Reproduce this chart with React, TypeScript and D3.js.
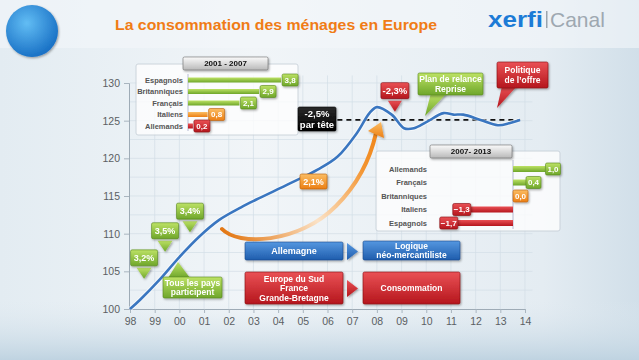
import React, { useEffect, useRef } from 'react'
import * as d3 from 'd3'

// consumption index, 1998 = 100
const years = [1998.0, 1998.4, 1999.2, 2000.0, 2000.8, 2001.6, 2002.5, 2003.1, 2004.5, 2005.6, 2006.4, 2007.2, 2007.7, 2008.0, 2008.6, 2009.1, 2009.5, 2010.0, 2010.7, 2011.1, 2011.5, 2012.2, 2012.9, 2013.4, 2013.8]
const consumption = [100.0, 101.2, 103.9, 106.9, 109.6, 111.8, 113.5, 114.5, 116.7, 118.5, 120.2, 123.4, 126.0, 126.8, 125.8, 124.0, 124.0, 124.8, 126.0, 125.8, 125.8, 125.1, 124.4, 124.7, 125.1]

const yTicks = [100, 105, 110, 115, 120, 125, 130]
const xTicks = [1998, 1999, 2000, 2001, 2002, 2003, 2004, 2005, 2006, 2007, 2008, 2009, 2010, 2011, 2012, 2013, 2014]
const xTickLabels = ['98', '99', '00', '01', '02', '03', '04', '05', '06', '07', '08', '09', '10', '11', '12', '13', '14']

// inset 2001 - 2007
const earlyLabels = ['Espagnols', 'Britanniques', 'Français', 'Italiens', 'Allemands']
const earlyValues = [3.8, 2.9, 2.1, 0.8, 0.2]
const earlyColors = ['green', 'green', 'green', 'orange', 'red']

// inset 2007 - 2013
const lateLabels = ['Allemands', 'Français', 'Britanniques', 'Italiens', 'Espagnols']
const lateValues = [1.0, 0.4, 0.0, -1.3, -1.7]
const lateColors = ['green', 'green', 'orange', 'red', 'red']

// growth callouts pinned on the curve
const growthLabels = ['3,2%', '3,5%', '3,4%']
const growthYears = [1998.57, 1999.42, 2000.43]
const growthValues = [104.0, 107.6, 110.2]

const W = 639
const H = 360
const FONT = '"Liberation Sans", Arial, sans-serif'

const palette = {
  green: ['#bde265', '#6ea62a', '#55871b'],
  orange: ['#fbbd63', '#ec7f14', '#b95f08'],
  red: ['#ea5155', '#b5161d', '#850c11'],
  blue: ['#5597e0', '#1f5dad', '#17488a'],
  grey: ['#fbfbfb', '#b9b9b9', '#6b6b6b'],
  black: ['#2a2a2a', '#000000', '#000000'],
}

const fmt = (v: number) => d3.format('.1f')(v).replace('.', ',')

export default function App() {
  const ref = useRef<SVGSVGElement>(null)

  useEffect(() => {
    const svg = d3.select(ref.current)
    svg.selectAll('*').remove()
    const defs = svg.append('defs')

    // vertical gradients for every colour
    Object.entries(palette).forEach(([k, c]) => {
      const g = defs.append('linearGradient').attr('id', 'g-' + k)
        .attr('x1', 0).attr('y1', 0).attr('x2', 0).attr('y2', 1)
      g.append('stop').attr('offset', '0%').attr('stop-color', c[0])
      g.append('stop').attr('offset', '100%').attr('stop-color', c[1])
    })
    const bg = defs.append('linearGradient').attr('id', 'bg')
    bg.append('stop').attr('offset', '0%').attr('stop-color', '#e3ecf2')
    bg.append('stop').attr('offset', '40%').attr('stop-color', '#f1f5f8')
    bg.append('stop').attr('offset', '85%').attr('stop-color', '#e4ecf2')
    bg.append('stop').attr('offset', '100%').attr('stop-color', '#d1dfe9')
    const bottom = defs.append('linearGradient').attr('id', 'bottom')
      .attr('x1', 0).attr('y1', 0).attr('x2', 0).attr('y2', 1)
    bottom.append('stop').attr('offset', '0%').attr('stop-color', '#dfe9f0').attr('stop-opacity', 0)
    bottom.append('stop').attr('offset', '100%').attr('stop-color', '#bfd3e1')
    const logo = defs.append('radialGradient').attr('id', 'logo')
      .attr('cx', '40%').attr('cy', '35%').attr('r', '65%')
    logo.append('stop').attr('offset', '0%').attr('stop-color', '#62bdf4')
    logo.append('stop').attr('offset', '100%').attr('stop-color', '#1a72c6')
    const arc = defs.append('linearGradient').attr('id', 'arc')
      .attr('gradientUnits', 'userSpaceOnUse').attr('x1', 222).attr('y1', 235).attr('x2', 380).attr('y2', 125)
    arc.append('stop').attr('offset', '0%').attr('stop-color', '#e2740e')
    arc.append('stop').attr('offset', '45%').attr('stop-color', '#fbe2c6')
    arc.append('stop').attr('offset', '80%').attr('stop-color', '#f39430')
    arc.append('stop').attr('offset', '100%').attr('stop-color', '#ef8215')
    const shadow = defs.append('filter').attr('id', 'shadow')
      .attr('x', '-20%').attr('y', '-20%').attr('width', '150%').attr('height', '160%')
    shadow.append('feDropShadow').attr('dx', 1).attr('dy', 1.2)
      .attr('stdDeviation', 0.9).attr('flood-color', '#000').attr('flood-opacity', 0.35)

    // background
    svg.append('rect').attr('width', W).attr('height', H).attr('fill', 'url(#bg)')
    svg.append('rect').attr('y', 300).attr('width', W).attr('height', 60).attr('fill', 'url(#bottom)')
    svg.append('rect').attr('width', W).attr('height', 48).attr('fill', '#f3f7fa').attr('opacity', 0.6)

    // logo + title
    svg.append('circle').attr('cx', 32).attr('cy', 31).attr('r', 26).attr('fill', 'url(#logo)')
      .attr('filter', 'url(#shadow)')
    svg.append('text').attr('x', 115).attr('y', 29.5).attr('fill', '#f07c16')
      .attr('font-size', 15.5).attr('font-weight', 'bold').attr('font-family', FONT)
      .attr('textLength', 322).attr('lengthAdjust', 'spacingAndGlyphs')
      .text('La consommation des ménages en Europe')
    svg.append('text').attr('x', 488).attr('y', 27).attr('fill', '#1c7bd6')
      .attr('font-size', 22).attr('font-weight', 'bold').attr('font-family', FONT)
      .attr('textLength', 55).attr('lengthAdjust', 'spacingAndGlyphs').text('xerfi')
    svg.append('rect').attr('x', 546).attr('y', 11).attr('width', 1.5).attr('height', 17).attr('fill', '#9aa4ad')
    svg.append('text').attr('x', 550).attr('y', 27).attr('fill', '#9ea8b1')
      .attr('font-size', 21).attr('font-family', FONT).text('Canal')

    // scales
    const x = d3.scaleLinear().domain([1998, 2014]).range([130, 525])
    const y = d3.scaleLinear().domain([100, 130]).range([309, 83])

    // grid
    const grid = svg.append('g').attr('stroke', '#d3dee7').attr('stroke-width', 0.7)
    grid.selectAll('line.v').data(xTicks.slice(1)).join('line')
      .attr('x1', d => x(d)).attr('x2', d => x(d)).attr('y1', y(131)).attr('y2', y(100))
    grid.selectAll('line.h').data(d3.range(102.5, 131, 2.5)).join('line')
      .attr('x1', x(1998)).attr('x2', x(2014.3)).attr('y1', d => y(d)).attr('y2', d => y(d))

    // axes
    const yAxis = svg.append('g').attr('transform', `translate(${x(1998) - 1},0)`)
      .call(d3.axisLeft(y).tickValues(yTicks).tickSize(5).tickPadding(4).tickFormat(d3.format('d')))
    const xAxis = svg.append('g').attr('transform', `translate(0,${y(100)})`)
      .call(d3.axisBottom(x).tickValues(xTicks).tickSize(4).tickPadding(5)
        .tickFormat((_d, i) => xTickLabels[i]))
    ;[yAxis, xAxis].forEach(a => {
      a.select('.domain').attr('stroke', '#9eabb6')
      a.selectAll('.tick line').attr('stroke', '#a9b5bf')
      a.selectAll('.tick text').attr('fill', '#5b5f63').attr('font-size', 10.5).attr('font-family', FONT)
    })

    // helper: box with centred lines of text
    const box = (bx: number, by: number, bw: number, bh: number, color: string, lines: string[], size: number, lineH: number) => {
      const g = svg.append('g').attr('filter', 'url(#shadow)')
      g.append('rect').attr('x', bx).attr('y', by).attr('width', bw).attr('height', bh)
        .attr('rx', 1.5).attr('fill', `url(#g-${color})`)
        .attr('stroke', palette[color][2]).attr('stroke-width', 0.6)
      const y0 = by + bh / 2 - (lines.length - 1) * lineH / 2 + size * 0.36
      lines.forEach((t, i) => {
        g.append('text').attr('x', bx + bw / 2).attr('y', y0 + i * lineH)
          .attr('text-anchor', 'middle').attr('fill', color === 'grey' ? '#111' : '#fff')
          .attr('font-size', size).attr('font-weight', 'bold').attr('font-family', FONT).text(t)
      })
      return g
    }
    const tri = (pts: [number, number][], color: string) =>
      svg.append('polygon').attr('points', pts.map(p => p.join(',')).join(' '))
        .attr('fill', `url(#g-${color})`).attr('filter', 'url(#shadow)')

    // inset 2001 - 2007
    svg.append('rect').attr('x', 136).attr('y', 64).attr('width', 162).attr('height', 71).attr('rx', 2)
      .attr('fill', '#fff').attr('opacity', 0.78).attr('stroke', '#c3ccd4')
    box(183, 57, 85, 13, 'grey', ['2001 - 2007'], 8, 9)
    const r1 = d3.scalePoint().domain(earlyLabels).range([80, 126])
    const b1 = d3.scaleLinear().domain([0, 4]).range([188, 286])
    svg.append('line').attr('x1', b1(0)).attr('x2', b1(0)).attr('y1', 74).attr('y2', 131)
      .attr('stroke', '#a6a9c8').attr('stroke-width', 0.8)
    earlyLabels.forEach((lab, i) => {
      const cy = r1(lab)!
      const v = earlyValues[i]
      const c = earlyColors[i]
      svg.append('text').attr('x', 183).attr('y', cy + 2.8).attr('text-anchor', 'end')
        .attr('font-size', 7.5).attr('font-weight', 'bold').attr('fill', '#555').attr('font-family', FONT).text(lab)
      svg.append('rect').attr('x', b1(0)).attr('y', cy - 2.5).attr('width', b1(v) - b1(0)).attr('height', 5)
        .attr('fill', `url(#g-${c})`)
      box(b1(v) + 1, cy - 6, 16, 12, c, [fmt(v)], 8, 9)
    })

    // inset 2007 - 2013
    svg.append('rect').attr('x', 376).attr('y', 151).attr('width', 184).attr('height', 80).attr('rx', 2)
      .attr('fill', '#fff').attr('opacity', 0.78).attr('stroke', '#c3ccd4')
    box(430, 145, 82, 13, 'grey', ['2007- 2013'], 8, 9)
    const r2 = d3.scalePoint().domain(lateLabels).range([169, 223])
    const b2 = d3.scaleLinear().domain([-2, 1.5]).range([448, 561.75])
    svg.append('line').attr('x1', b2(0)).attr('x2', b2(0)).attr('y1', 160).attr('y2', 229)
      .attr('stroke', '#a6a9c8').attr('stroke-width', 0.8)
    lateLabels.forEach((lab, i) => {
      const cy = r2(lab)!
      const v = lateValues[i]
      const c = lateColors[i]
      svg.append('text').attr('x', 427).attr('y', cy + 2.8).attr('text-anchor', 'end')
        .attr('font-size', 7.5).attr('font-weight', 'bold').attr('fill', '#555').attr('font-family', FONT).text(lab)
      svg.append('rect').attr('x', Math.min(b2(0), b2(v))).attr('y', cy - 3)
        .attr('width', Math.abs(b2(v) - b2(0))).attr('height', 6).attr('fill', `url(#g-${c})`)
      if (v < 0) box(b2(v) - 18, cy - 6, 18, 12, c, [fmt(v)], 8, 9)
      else box(b2(v), cy - 6, 15, 12, c, [fmt(v)], 8, 9)
    })

    // dashed reference level
    svg.append('line').attr('x1', x(2006.4)).attr('x2', x(2013.8)).attr('y1', y(125.1)).attr('y2', y(125.1))
      .attr('stroke', '#111').attr('stroke-width', 1.8).attr('stroke-dasharray', '5,4')

    // consumption line
    const line = d3.line<number>().x((_d, i) => x(years[i])).y(d => y(d)).curve(d3.curveCatmullRom)
    svg.append('path').datum(consumption).attr('d', line).attr('fill', 'none')
      .attr('stroke', '#ffffff').attr('stroke-opacity', 0.6).attr('stroke-width', 4.5)
    svg.append('path').datum(consumption).attr('d', line).attr('fill', 'none')
      .attr('stroke', '#3a76c0').attr('stroke-width', 2.6).attr('stroke-linejoin', 'round')

    // orange arrow
    svg.append('path').attr('d', 'M222,229 C238,246 298,244 336,206 C356,186 370,160 376,133')
      .attr('fill', 'none').attr('stroke', 'url(#arc)').attr('stroke-width', 4).attr('stroke-linecap', 'round')
    tri([[381, 122], [368, 131], [384, 138]], 'orange')
    box(300, 174, 27, 15, 'orange', ['2,1%'], 9, 10)

    // growth callouts
    growthLabels.forEach((lab, i) => {
      const tx = x(growthYears[i])
      const ty = y(growthValues[i])
      tri([[tx - 7.5, ty - 11], [tx + 7.5, ty - 11], [tx, ty]], 'green')
      box(tx - 13.5, ty - 29, 27, 16, 'green', [lab], 9, 10)
    })
    tri([[168, 278], [190, 278], [178, 262]], 'green')
    box(163, 277, 59, 21, 'green', ['Tous les pays', 'participent'], 8.5, 9.5)

    // -2,5% par tête
    box(298, 107, 38, 24, 'black', ['-2,5%', 'par tête'], 9.5, 10.5)

    // -2,3%
    const dx = x(2008.73)
    const dy = y(126.2)
    tri([[dx - 7, dy - 11], [dx + 7, dy - 11], [dx, dy]], 'red')
    box(dx - 14, dy - 29, 28, 16, 'red', ['-2,3%'], 9.5, 10)

    // speech callouts
    tri([[431, 93], [447, 93], [425, 116]], 'green')
    box(418, 73, 65, 22, 'green', ['Plan de relance', 'Reprise'], 8.5, 9.5)
    tri([[502, 86], [517, 86], [497, 108]], 'red')
    box(497, 62, 51, 26, 'red', ['Politique', 'de l\u2019offre'], 8.5, 10)

    // bottom boxes
    box(245, 242, 98, 18, 'blue', ['Allemagne'], 9, 10)
    tri([[347, 243], [358, 251.5], [347, 260]], 'blue')
    box(363, 241, 97, 19, 'blue', ['Logique', 'néo-mercantiliste'], 8.5, 9)
    box(245, 272, 98, 32, 'red', ['Europe du Sud', 'France', 'Grande-Bretagne'], 8.5, 9.5)
    tri([[347, 280], [358, 288.5], [347, 297]], 'red')
    box(363, 272, 97, 32, 'red', ['Consommation'], 8.5, 10)
  }, [])

  return <svg ref={ref} width={W} height={H} style={{ position: 'fixed', left: 0, top: 0 }} />
}
